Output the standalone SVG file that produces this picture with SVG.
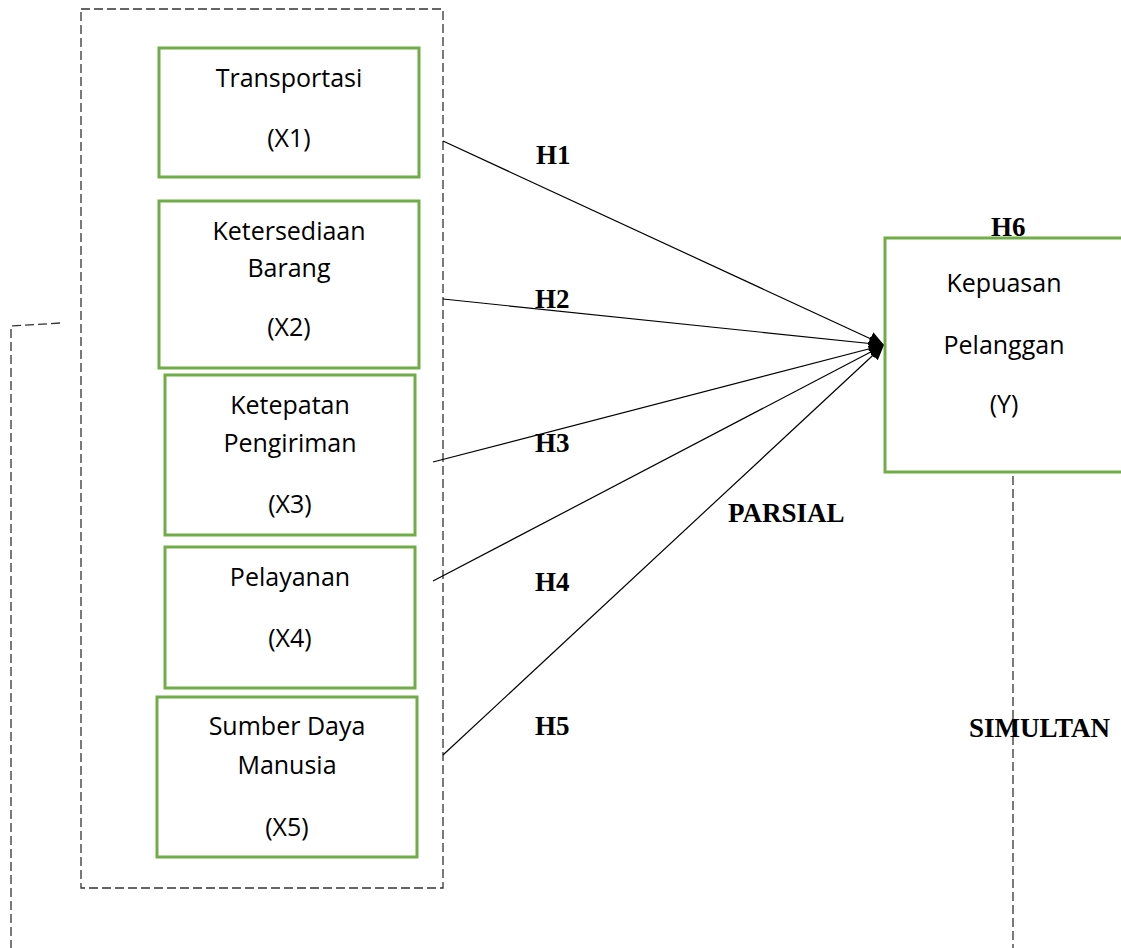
<svg xmlns="http://www.w3.org/2000/svg" width="1121" height="948" viewBox="0 0 1121 948">
<style>
.box{fill:#ffffff;stroke:#70AD47;stroke-width:3}
.lbl{font-family:"Open Sans","Noto Sans",sans-serif;font-size:25px;fill:#000;text-anchor:middle}
.h{font-family:"Liberation Serif","Times New Roman",serif;font-size:27px;font-weight:bold;fill:#000}
.dash{fill:none;stroke:#333;stroke-width:1.3;stroke-dasharray:9 4}
.conn{fill:none;stroke:#000;stroke-width:1.2}
</style>
<defs>
<marker id="arr" markerUnits="userSpaceOnUse" markerWidth="18" markerHeight="16" refX="15" refY="7" orient="auto">
<path d="M0,0 L15,7 L0,14 Z" fill="#000"/>
</marker>
</defs>
<rect width="1121" height="948" fill="#ffffff"/>
<g id="container">
<rect class="dash" x="81" y="9" width="362" height="879"/>
<polyline class="dash" points="60,323 11,326 11,948"/>
<line class="dash" x1="1013" y1="476" x2="1013" y2="948"/>
</g>
<g id="connectors">
<line class="conn" x1="443" y1="141" x2="884" y2="345" marker-end="url(#arr)"/>
<line class="conn" x1="443" y1="299" x2="884" y2="345" marker-end="url(#arr)"/>
<line class="conn" x1="433" y1="462" x2="884" y2="345" marker-end="url(#arr)"/>
<line class="conn" x1="433" y1="581" x2="884" y2="345" marker-end="url(#arr)"/>
<line class="conn" x1="443" y1="755" x2="884" y2="345" marker-end="url(#arr)"/>
</g>
<g id="x1">
<rect class="box" x="159" y="48" width="260" height="129"/>
<text class="lbl" x="289" y="87">Transportasi</text>
<text class="lbl" x="289" y="147">(X1)</text>
</g>
<g id="x2">
<rect class="box" x="159" y="201" width="260" height="167"/>
<text class="lbl" x="289" y="240">Ketersediaan</text>
<text class="lbl" x="289" y="277">Barang</text>
<text class="lbl" x="289" y="336">(X2)</text>
</g>
<g id="x3">
<rect class="box" x="165" y="375" width="250" height="160"/>
<text class="lbl" x="290" y="414">Ketepatan</text>
<text class="lbl" x="290" y="452">Pengiriman</text>
<text class="lbl" x="290" y="513">(X3)</text>
</g>
<g id="x4">
<rect class="box" x="165" y="547" width="250" height="141"/>
<text class="lbl" x="290" y="586">Pelayanan</text>
<text class="lbl" x="290" y="647">(X4)</text>
</g>
<g id="x5">
<rect class="box" x="157" y="697" width="260" height="160"/>
<text class="lbl" x="287" y="735">Sumber Daya</text>
<text class="lbl" x="287" y="774">Manusia</text>
<text class="lbl" x="287" y="836">(X5)</text>
</g>
<g id="y">
<rect class="box" x="885" y="238" width="250" height="234"/>
<text class="lbl" x="1004" y="292">Kepuasan</text>
<text class="lbl" x="1004" y="354">Pelanggan</text>
<text class="lbl" x="1004" y="413">(Y)</text>
</g>
<g id="labels">
<text class="h" x="536" y="164">H1</text>
<text class="h" x="535" y="308">H2</text>
<text class="h" x="535" y="452">H3</text>
<text class="h" x="535" y="591">H4</text>
<text class="h" x="535" y="735">H5</text>
<text class="h" x="991" y="236">H6</text>
<text class="h" x="728" y="522">PARSIAL</text>
<text class="h" x="969" y="737">SIMULTAN</text>
</g>
</svg>
